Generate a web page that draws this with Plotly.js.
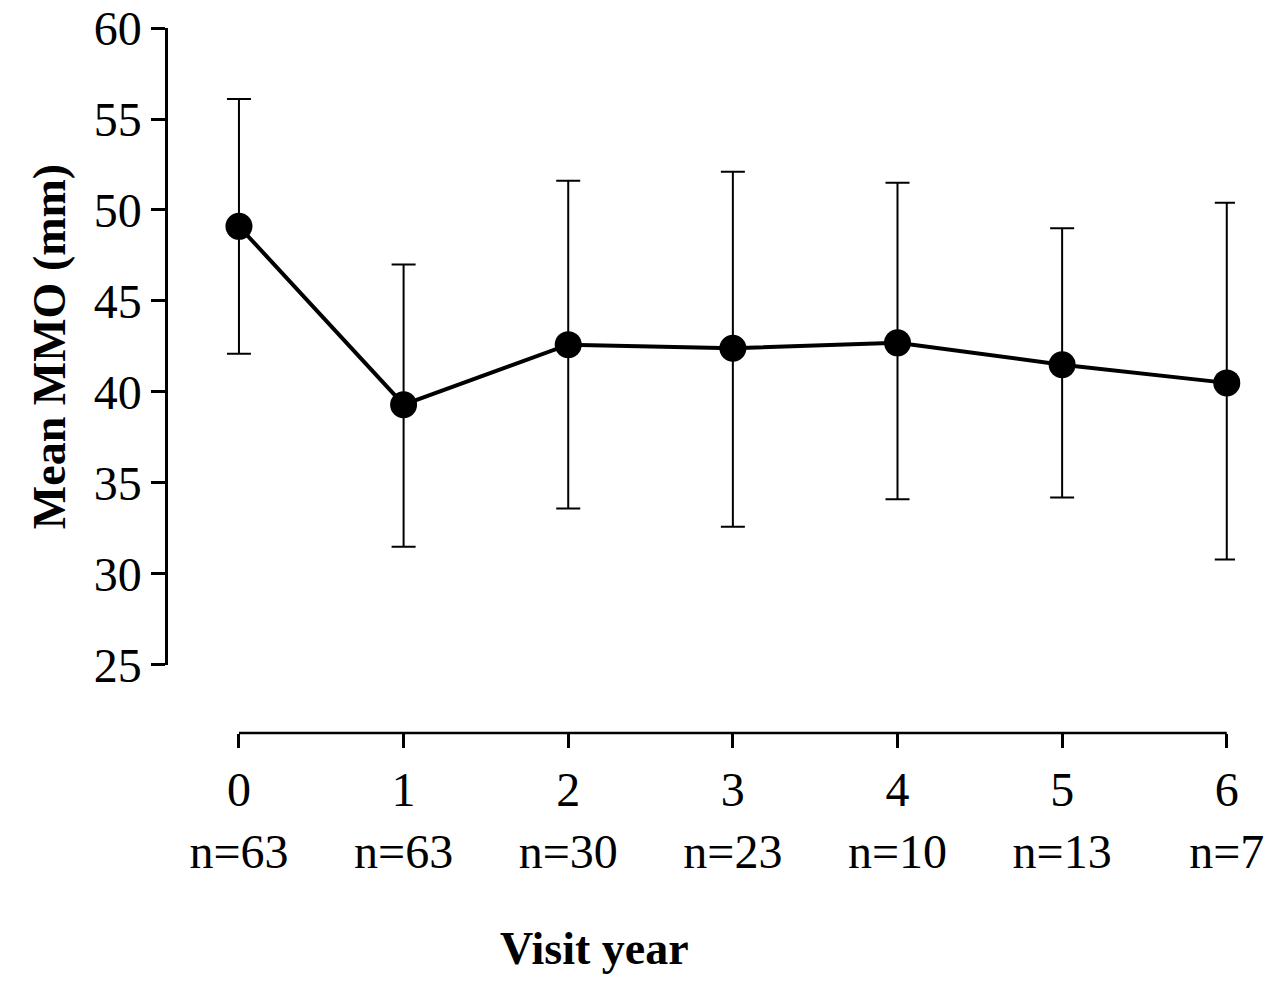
<!DOCTYPE html>
<html>
<head>
<script src="https://cdn.plot.ly/plotly-3.0.1.min.js"></script>
<style>body{margin:0}#plot{width:1280px;height:986px}</style>
</head>
<body>
<div id="plot"></div>
<script>
const years = [0, 1, 2, 3, 4, 5, 6];
const counts = ['n=63', 'n=63', 'n=30', 'n=23', 'n=10', 'n=13', 'n=7'];
const meanMMO = [49.1, 39.3, 42.6, 42.4, 42.7, 41.5, 40.5];
const upper = [56.1, 47.0, 51.6, 52.1, 51.5, 49.0, 50.4];
const lower = [42.1, 31.5, 33.6, 32.6, 34.1, 34.2, 30.8];

const plus = meanMMO.map((m, i) => upper[i] - m);
const minus = meanMMO.map((m, i) => m - lower[i]);
const tickText = years.map((y, i) => y + '<br>' + counts[i]);

const font = {family: 'Liberation Serif, Times New Roman, serif', color: '#000'};

const trace = {
  x: years, y: meanMMO, type: 'scatter', mode: 'lines+markers',
  cliponaxis: false,
  line: {color: '#000', width: 4},
  marker: {color: '#000', size: 27},
  error_y: {type: 'data', symmetric: false, array: plus, arrayminus: minus,
    color: '#000', thickness: 2, width: 12}
};

const layout = {
  width: 1280, height: 986,
  margin: {l: 168, r: 45, t: 28, b: 253},
  showlegend: false,
  plot_bgcolor: '#fff', paper_bgcolor: '#fff',
  font: Object.assign({size: 48}, font),
  xaxis: {
    range: [-0.431, 6.05], anchor: 'free', position: 0,
    tickvals: years, ticktext: tickText,
    ticks: 'outside', ticklen: 14, tickwidth: 2.5, tickcolor: '#000',
    showline: false, showgrid: false, zeroline: false,
    tickfont: Object.assign({size: 48}, font)
  },
  yaxis: {
    range: [25, 60], domain: [0.0965, 1],
    tickvals: [25, 30, 35, 40, 45, 50, 55, 60],
    ticks: 'outside', ticklen: 14, tickwidth: 2.5, tickcolor: '#000',
    showline: true, linecolor: '#000', linewidth: 2.5,
    showgrid: false, zeroline: false,
    tickfont: Object.assign({size: 48}, font),
    title: {text: '<b>Mean MMO (mm)</b>', font: Object.assign({size: 46}, font), standoff: 14}
  },
  annotations: [{text: '<b>Visit year</b>', xref: 'paper', yref: 'paper',
    x: 0.4, y: -0.305, xanchor: 'center', yanchor: 'middle', showarrow: false,
    font: Object.assign({size: 46}, font)}],
  shapes: [{type: 'line', xref: 'x', yref: 'paper', x0: 0, x1: 6, y0: 0, y1: 0,
    line: {color: '#000', width: 2.5}}]
};

Plotly.newPlot('plot', [trace], layout, {displayModeBar: false});
</script>
</body>
</html>
